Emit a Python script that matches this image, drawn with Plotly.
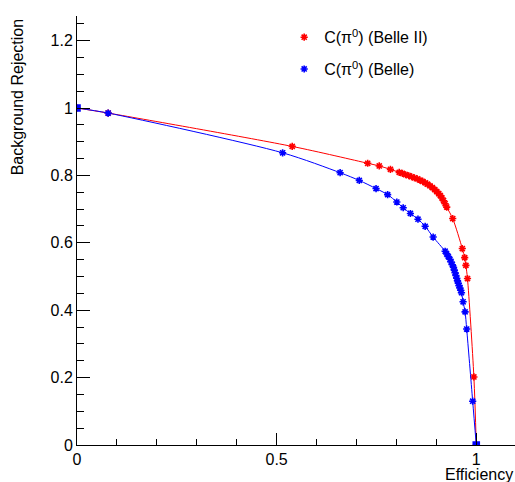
import plotly.graph_objects as go

# Belle II C(pi0) ROC points
belle2_eff = [0.0, 0.078, 0.539, 0.728, 0.757, 0.785, 0.807,
              0.815, 0.823, 0.831, 0.838, 0.845, 0.852, 0.859, 0.866, 0.872,
              0.878, 0.884, 0.890, 0.896, 0.901, 0.906, 0.910, 0.914, 0.918,
              0.922, 0.926, 0.941, 0.965, 0.971, 0.974, 0.978, 0.994, 1.0]
belle2_rej = [1.0, 0.985, 0.886, 0.836, 0.828, 0.818, 0.809,
              0.806, 0.802, 0.799, 0.796, 0.793, 0.790, 0.786, 0.782, 0.778,
              0.774, 0.769, 0.764, 0.758, 0.752, 0.746, 0.740, 0.733, 0.725,
              0.716, 0.706, 0.672, 0.583, 0.556, 0.533, 0.494, 0.202, 0.0]

# Belle C(pi0) ROC points
belle_eff = [0.0, 0.078, 0.515, 0.659, 0.707, 0.749, 0.778, 0.801, 0.817,
             0.835, 0.854, 0.872, 0.892, 0.922,
             0.926, 0.930, 0.934, 0.937, 0.940, 0.943, 0.945, 0.947, 0.949,
             0.951, 0.953, 0.955, 0.957, 0.959, 0.961, 0.963,
             0.967, 0.972, 0.976, 0.991, 1.0]
belle_rej = [1.0, 0.985, 0.867, 0.808, 0.785, 0.761, 0.743, 0.721, 0.704,
             0.687, 0.670, 0.649, 0.617, 0.575,
             0.567, 0.559, 0.551, 0.543, 0.535, 0.527, 0.519, 0.511, 0.503,
             0.495, 0.487, 0.480, 0.473, 0.466, 0.459, 0.452,
             0.425, 0.395, 0.344, 0.130, 0.0]

series_names = ["C(π<sup>0</sup>) (Belle II)", "C(π<sup>0</sup>) (Belle)"]
series_colors = ["#ff0000", "#0000ff"]

x_ticks = [0, 0.5, 1]
x_labels = ["0", "0.5", "1"]
y_ticks = [0, 0.2, 0.4, 0.6, 0.8, 1.0, 1.2]
y_labels = ["0", "0.2", "0.4", "0.6", "0.8", "1", "1.2"]

FONT = "Liberation Sans, Arial, sans-serif"


def end_symbols(n):
    return ["square"] + ["asterisk-open"] * (n - 2) + ["square"]


fig = go.Figure()
for xs, ys, col, ends in [(belle2_eff, belle2_rej, series_colors[0], False),
                          (belle_eff, belle_rej, series_colors[1], True)]:
    syms = end_symbols(len(xs)) if ends else "asterisk-open"
    fig.add_trace(go.Scatter(
        x=xs, y=ys, mode="lines+markers", showlegend=False, hoverinfo="skip",
        line=dict(color=col, width=1, shape="spline", smoothing=0.8),
        marker=dict(symbol=syms, size=6, color=col,
                    line=dict(color=col, width=1.6)),
    ))
for i, (name, col) in enumerate(zip(series_names, series_colors)):
    fig.add_trace(go.Scatter(
        x=[None], y=[None], mode="markers", name=name, legendgroup=f"g{i}",
        marker=dict(symbol="asterisk-open", size=6, color=col,
                    line=dict(color=col, width=1.6)),
    ))

fig.update_layout(
    width=515, height=482,
    margin=dict(l=77, r=0, t=16, b=37),
    paper_bgcolor="white", plot_bgcolor="white",
    font=dict(family=FONT, size=16, color="black"),
    showlegend=True,
    hovermode=False,
    legend=dict(x=0.473, y=0.99, xanchor="left", yanchor="top",
                bgcolor="rgba(0,0,0,0)", tracegroupgap=8,
                font=dict(family=FONT, size=16, color="black"),
                itemwidth=30),
    xaxis=dict(range=[0, 1.097], showgrid=False, zeroline=False,
               showline=True, linecolor="black", linewidth=1,
               tickmode="array", tickvals=x_ticks, ticktext=x_labels,
               ticks="inside", ticklen=12, tickcolor="black",
               minor=dict(dtick=0.1, ticks="inside", ticklen=6, tickcolor="black", showgrid=False),
               tickfont=dict(size=16)),
    yaxis=dict(range=[0, 1.273], showgrid=False, zeroline=False,
               showline=True, linecolor="black", linewidth=1,
               tickmode="array", tickvals=y_ticks, ticktext=y_labels,
               ticks="inside", ticklen=13, tickcolor="black",
               minor=dict(dtick=0.05, ticks="inside", ticklen=7, tickcolor="black", showgrid=False),
               tickfont=dict(size=16)),
    annotations=[
        dict(text="Efficiency", xref="paper", yref="paper", x=1.0, y=-0.045,
             xanchor="right", yanchor="top", showarrow=False,
             font=dict(family=FONT, size=16, color="black")),
        dict(text="Background Rejection", xref="paper", yref="paper", x=-0.135, y=1.0,
             xanchor="center", yanchor="top", textangle=-90, showarrow=False,
             font=dict(family=FONT, size=16, color="black")),
    ],
)

fig.write_html("out.html", config={"displayModeBar": False},
               post_script="document.body.style.margin='0';document.body.style.overflow='hidden';")
